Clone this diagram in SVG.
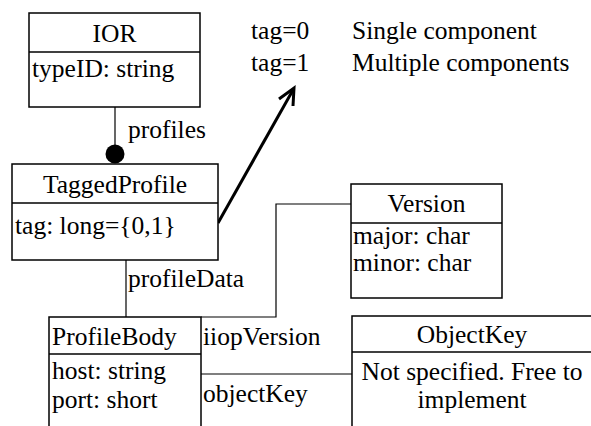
<svg xmlns="http://www.w3.org/2000/svg" width="591" height="426" viewBox="0 0 591 426">
<style>
text{font-family:'Liberation Serif','Times New Roman',serif;font-size:25.5px;fill:#000}
.box{fill:#fff;stroke:#000;stroke-width:1.5}
.div{stroke:#000;stroke-width:1.5}
.ln{fill:none;stroke:#000;stroke-width:1.2}
.mid{text-anchor:middle}
</style>
<rect width="591" height="426" fill="#fff"/>
<g id="connectors">
<line class="ln" x1="115" y1="107" x2="115" y2="150"/>
<circle cx="115" cy="154" r="9.5" fill="#000"/>
<line class="ln" x1="126" y1="260" x2="126" y2="317"/>
<polyline class="ln" points="201,317 276,317 276,204 351,204"/>
<line class="ln" x1="201" y1="374" x2="352" y2="374"/>
<line x1="218" y1="223" x2="293" y2="90" stroke="#000" stroke-width="3"/>
<polyline points="279,99 294,88 293,106" fill="none" stroke="#000" stroke-width="3" stroke-linejoin="miter"/>
<text x="128" y="138">profiles</text>
<text x="128" y="287">profileData</text>
<text x="203" y="345">iiopVersion</text>
<text x="203" y="402">objectKey</text>
</g>
<g id="note">
<text x="251" y="39">tag=0</text>
<text x="352" y="39">Single component</text>
<text x="251" y="71">tag=1</text>
<text x="352" y="71">Multiple components</text>
</g>
<g id="IOR">
<rect class="box" x="29" y="13" width="171" height="94"/>
<line class="div" x1="29" y1="52" x2="200" y2="52"/>
<text class="mid" x="114.5" y="42">IOR</text>
<text x="32" y="77">typeID: string</text>
</g>
<g id="TaggedProfile">
<rect class="box" x="12" y="164" width="206" height="96"/>
<line class="div" x1="12" y1="203" x2="218" y2="203"/>
<text class="mid" x="115" y="193">TaggedProfile</text>
<text x="15" y="234">tag: long={0,1}</text>
</g>
<g id="Version">
<rect class="box" x="351" y="184" width="151" height="114"/>
<line class="div" x1="351" y1="223" x2="502" y2="223"/>
<text class="mid" x="426.5" y="212">Version</text>
<text x="353" y="244">major: char</text>
<text x="353" y="271">minor: char</text>
</g>
<g id="ProfileBody">
<rect class="box" x="49" y="317" width="152" height="130"/>
<line class="div" x1="49" y1="354" x2="201" y2="354"/>
<text x="52" y="345">ProfileBody</text>
<text x="52" y="379">host: string</text>
<text x="52" y="408">port: short</text>
</g>
<g id="ObjectKey">
<rect class="box" x="352" y="316" width="250" height="130"/>
<line class="div" x1="352" y1="352" x2="602" y2="352"/>
<text class="mid" x="472" y="343">ObjectKey</text>
<text class="mid" x="472" y="380">Not specified. Free to</text>
<text class="mid" x="472" y="408">implement</text>
</g>
</svg>
